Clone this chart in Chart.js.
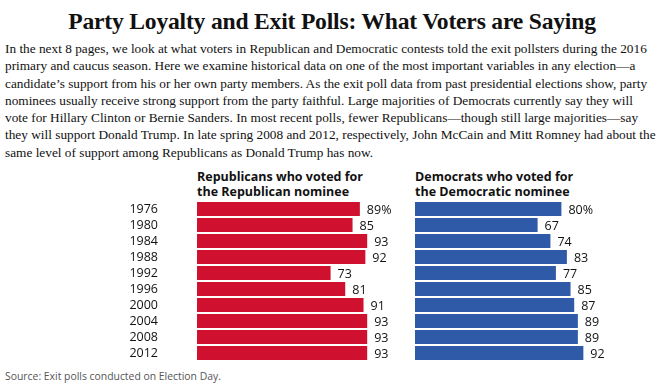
<!DOCTYPE html>
<html><head><meta charset="utf-8">
<script src="https://cdn.jsdelivr.net/npm/chart.js@4"></script>
<style>
html,body{margin:0;padding:0;width:664px;height:388px;overflow:hidden;background:#fff;}
#title{position:absolute;left:0;top:8px;width:664px;text-align:center;font-family:"Liberation Serif",serif;font-weight:bold;font-size:23.6px;color:#111;letter-spacing:-0.2px;}
#para{position:absolute;left:5px;top:40px;width:660px;font-family:"Liberation Serif",serif;font-size:13.3px;line-height:17.3px;color:#111;white-space:nowrap;}
.head{position:absolute;top:169px;font-family:"Open Sans",sans-serif;font-weight:bold;font-size:12.5px;line-height:15px;color:#111;white-space:nowrap;}
#src{position:absolute;left:5px;top:369px;font-family:"Open Sans",sans-serif;font-size:10.4px;color:#555;}
.wrap{position:absolute;top:0;height:388px;}
</style></head><body>
<div id="title">Party Loyalty and Exit Polls: What Voters are Saying</div>
<div id="para">In the next 8 pages, we look at what voters in Republican and Democratic contests told the exit pollsters during the 2016<br>primary and caucus season. Here we examine historical data on one of the most important variables in any election—a<br>candidate’s support from his or her own party members. As the exit poll data from past presidential elections show, party<br>nominees usually receive strong support from the party faithful. Large majorities of Democrats currently say they will<br>vote for Hillary Clinton or Bernie Sanders. In most recent polls, fewer Republicans—though still large majorities—say<br>they will support Donald Trump. In late spring 2008 and 2012, respectively, John McCain and Mitt Romney had about the<br>same level of support among Republicans as Donald Trump has now.</div>
<div class="head" style="left:197px">Republicans who voted for<br>the Republican nominee</div>
<div class="head" style="left:415px">Democrats who voted for<br>the Democratic nominee</div>
<div id="src">Source: Exit polls conducted on Election Day.</div>
<div class="wrap" style="left:0;width:400px"><canvas id="c1"></canvas></div>
<div class="wrap" style="left:400px;width:264px"><canvas id="c2"></canvas></div>
<script>
const years = ["1976","1980","1984","1988","1992","1996","2000","2004","2008","2012"];
const republicanValues = [89,85,93,92,73,81,91,93,93,93];
const democratValues = [80,67,74,83,77,85,87,89,89,92];

const valueLabels = {
  id:'valueLabels',
  afterDatasetsDraw(chart){
    const ctx = chart.ctx;
    const meta = chart.getDatasetMeta(0);
    const data = chart.data.datasets[0].data;
    ctx.save();
    ctx.font = '12.5px "Open Sans", sans-serif';
    ctx.fillStyle = '#111';
    ctx.textBaseline = 'middle';
    ctx.textAlign = 'left';
    meta.data.forEach((bar,i)=>{
      ctx.fillText(data[i] + (i===0?'%':''), bar.x + 7, bar.y + 1);
    });
    ctx.restore();
  }
};

function makeChart(id, values, color, showY, pad){
  return new Chart(document.getElementById(id), {
    type:'bar',
    data:{labels:years, datasets:[{data:values, backgroundColor:color, borderWidth:0, barPercentage:0.875, categoryPercentage:1}]},
    options:{
      indexAxis:'y',
      responsive:true, maintainAspectRatio:false, animation:false,
      layout:{padding:pad},
      plugins:{legend:{display:false}, tooltip:{enabled:false}},
      scales:{
        x:{display:false, min:0, max:100},
        y:{display:showY,
           grid:{display:false, drawTicks:false},
           border:{display:false},
           ticks:{padding:39, autoSkip:false, color:'#111', font:{family:'"Open Sans", sans-serif', size:12.5}},
           afterFit(s){ if(showY){ s.width = 197; s.paddingTop = 0; s.paddingBottom = 0; } }
        }
      }
    },
    plugins:[valueLabels]
  });
}
makeChart('c1', republicanValues, '#cf102f', true, {top:201, bottom:27, left:0, right:20});
makeChart('c2', democratValues, '#2e5aa8', false, {top:201, bottom:27, left:15, right:66});
</script>
</body></html>
